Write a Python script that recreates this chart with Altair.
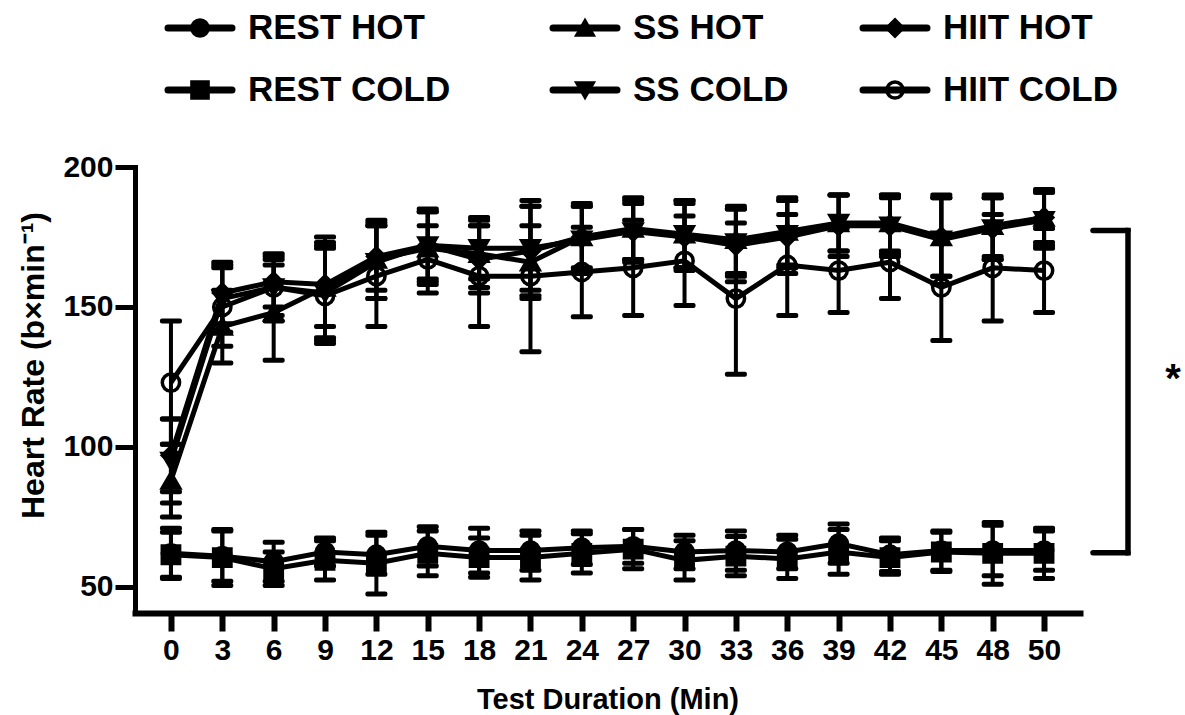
import altair as alt
import pandas as pd

# ---------------- data ----------------
times = ["0", "3", "6", "9", "12", "15", "18", "21", "24", "27",
         "30", "33", "36", "39", "42", "45", "48", "50"]
series_names = ["REST HOT", "REST COLD", "SS HOT", "SS COLD", "HIIT HOT", "HIIT COLD"]

rest_hot_mean = [62, 61, 59, 62.5, 61.5, 64.5, 63, 63, 64, 64.5, 62.5, 63, 62.5, 65.5, 61.5, 63, 63, 63]
rest_hot_sd = [9, 9, 7, 5, 7, 7, 8, 7, 6, 6, 6, 7, 6, 7, 6, 7, 9, 7]
rest_cold_mean = [61.5, 60.5, 56.5, 59.5, 58.5, 62, 60.5, 60.5, 62, 63.5, 59.5, 61, 60, 62.5, 60.5, 62.5, 62, 62]
rest_cold_sd = [8, 10, 6, 7, 11, 8, 7, 8, 7, 7, 7, 7, 7, 8, 6, 7, 11, 9]
ss_hot_mean = [88, 143, 148, 157, 167, 171, 169, 166, 175, 178, 176, 174, 177, 180, 180, 175, 179, 182]
ss_hot_sd = [13, 13, 17, 18, 14, 13, 12, 13, 12, 11, 12, 12, 12, 10, 10, 14, 11, 9]
ss_cold_mean = [95, 153, 157, 155, 166, 172, 171, 171, 174, 177, 176, 173, 176, 180, 179, 174, 178, 181]
ss_cold_sd = [15, 12, 10, 17, 13, 13, 11, 15, 12, 11, 12, 12, 12, 10, 11, 16, 11, 10]
hiit_hot_mean = [97, 155, 159, 158, 168, 172, 167, 170, 175, 177, 175, 172, 175, 179, 179, 175, 178, 182]
hiit_hot_sd = [13, 11, 9, 15, 12, 12, 12, 16, 11, 10, 12, 13, 13, 11, 10, 14, 11, 10]
hiit_cold_mean = [123, 150, 157, 154, 161, 167, 161, 161, 162.5, 164, 166.5, 153, 165, 163, 166, 157, 164, 163]
hiit_cold_sd = [22, 14, 12, 17, 18, 12, 18, 27, 16, 17, 16, 27, 18, 15, 13, 19, 19, 15]

y_ticks = [50, 100, 150, 200]
bracket_top = 177.3
bracket_bottom = 62.2
star_value = 119.6

means = [rest_hot_mean, rest_cold_mean, ss_hot_mean, ss_cold_mean, hiit_hot_mean, hiit_cold_mean]
sds = [rest_hot_sd, rest_cold_sd, ss_hot_sd, ss_cold_sd, hiit_hot_sd, hiit_cold_sd]

rows = []
for name, m, s in zip(series_names, means, sds):
    for t, mv, sv in zip(times, m, s):
        rows.append({"series": name, "t": t, "mean": mv, "lo": mv - sv, "hi": mv + sv})
df = pd.DataFrame(rows)

# ---------------- styles ----------------
shape_range = ["circle", "square", "triangle-up", "triangle-down", "diamond", "circle"]
fill_range = ["black", "black", "black", "black", "black", "transparent"]
FONT = "Liberation Sans"

ORIGIN_X, ORIGIN_Y = 135, 167
W, H = 945, 446

x_enc = alt.X(
    "t:O", sort=times,
    scale=alt.Scale(type="point", padding=0.7),
    axis=alt.Axis(labelAngle=0, labelFontSize=30, labelFontWeight="bold", labelColor="black",
                  tickSize=18, tickWidth=6, tickColor="black", domainWidth=6, domainColor="black",
                  labelPadding=4, titleFontSize=29, titleFontWeight="bold", titleColor="black",
                  titleY=95, titleBaseline="alphabetic", grid=False, domainCap="square"),
    title="Test Duration (Min)",
)
y_scale = alt.Scale(domain=[40.7, 200], nice=False, zero=False)
y_enc = alt.Y(
    "mean:Q", scale=y_scale,
    axis=alt.Axis(values=y_ticks, labelFontSize=30, labelFontWeight="bold", labelColor="black",
                  tickSize=20, tickWidth=5, tickColor="black", domainWidth=5, domainColor="black",
                  labelPadding=2, titleFontSize=32, titleFontWeight="bold", titleColor="black",
                  titleAngle=270, titleX=-102, titleY=198, titleAlign="center",
                  titleBaseline="middle", grid=False, domainCap="square"),
    title="Heart Rate (b×min⁻¹)",
)

base = alt.Chart(df)

lines = base.mark_line(color="black", strokeWidth=5).encode(
    x=x_enc, y=y_enc, detail="series:N"
)
rules = base.mark_rule(color="black", strokeWidth=4).encode(
    x=alt.X("t:O", sort=times), y=alt.Y("lo:Q"), y2="hi:Q"
)
lo_ticks = base.mark_tick(color="black", thickness=5, size=22, opacity=1, cornerRadius=2).encode(
    x=alt.X("t:O", sort=times), y=alt.Y("lo:Q")
)
hi_ticks = base.mark_tick(color="black", thickness=5, size=22, opacity=1, cornerRadius=2).encode(
    x=alt.X("t:O", sort=times), y=alt.Y("hi:Q")
)
points = base.mark_point(filled=True, stroke="black", strokeWidth=3.5, size=300, opacity=1).encode(
    x=alt.X("t:O", sort=times),
    y=alt.Y("mean:Q"),
    shape=alt.Shape("series:N", scale=alt.Scale(domain=series_names, range=shape_range), legend=None),
    fill=alt.Fill("series:N", scale=alt.Scale(domain=series_names, range=fill_range), legend=None),
)

one = pd.DataFrame({"a": [0]})
bx = 1128 - ORIGIN_X
bx0 = 1093 - ORIGIN_X
bracket_v = alt.Chart(one).mark_rule(color="black", strokeWidth=5.5, strokeCap="square").encode(
    x=alt.value(bx), y=alt.datum(bracket_top), y2=alt.datum(bracket_bottom)
)
bracket_t = alt.Chart(one).mark_rule(color="black", strokeWidth=5.5, strokeCap="round").encode(
    x=alt.value(bx0), x2=alt.value(bx), y=alt.datum(bracket_top)
)
bracket_b = alt.Chart(one).mark_rule(color="black", strokeWidth=5.5, strokeCap="round").encode(
    x=alt.value(bx0), x2=alt.value(bx), y=alt.datum(bracket_bottom)
)
star = alt.Chart(one).mark_text(text="*", fontSize=40, fontWeight="bold", color="black",
                                align="center", baseline="alphabetic").encode(
    x=alt.value(1173 - ORIGIN_X), y=alt.datum(star_value)
)

# ---------------- manual legend (two rows x three columns) ----------------
col_line_start = [168, 553, 863]
row_y = [28, 90]
legend_layers = []
for i, name in enumerate(series_names):
    col, row = i // 2, i % 2
    x0 = col_line_start[col] - ORIGIN_X
    x1 = x0 + 64
    cx = (x0 + x1) / 2
    yy = row_y[row] - ORIGIN_Y
    d = pd.DataFrame({"label": [name]})
    legend_layers.append(
        alt.Chart(d).mark_rule(color="black", strokeWidth=7, strokeCap="round").encode(
            x=alt.value(x0), x2=alt.value(x1), y=alt.value(yy))
    )
    filled = fill_range[i] != "transparent"
    legend_layers.append(
        alt.Chart(d).mark_point(shape=shape_range[i], filled=filled, size=260, opacity=1,
                                stroke="black", strokeWidth=3.5,
                                fill="black" if filled else "transparent").encode(
            x=alt.value(cx), y=alt.value(yy))
    )
    legend_layers.append(
        alt.Chart(d).mark_text(align="left", baseline="middle", fontSize=35, fontWeight="bold",
                               color="black", font=FONT).encode(
            x=alt.value(x1 + 16), y=alt.value(yy), text="label:N")
    )

chart = alt.layer(
    lines, rules, lo_ticks, hi_ticks, points,
    bracket_v, bracket_t, bracket_b, star, *legend_layers
).properties(
    width=W, height=H,
    autosize=alt.AutoSizeParams(type="none"),
    padding={"left": ORIGIN_X, "top": ORIGIN_Y, "right": 1185 - ORIGIN_X - W, "bottom": 715 - ORIGIN_Y - H},
).configure(font=FONT).configure_view(strokeWidth=0)

chart.save("out.html", embed_options={"renderer": "svg", "actions": False})
